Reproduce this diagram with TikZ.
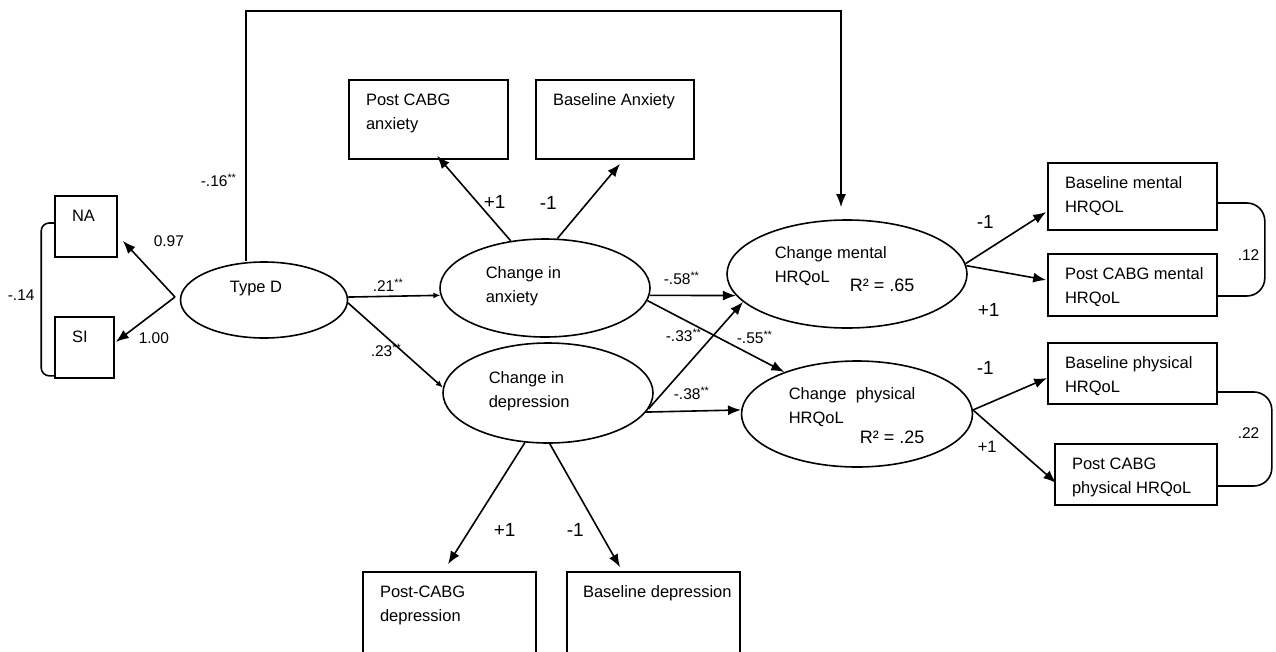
\documentclass[tikz,border=0pt]{standalone}
\usepackage{fontspec}
\setmainfont{Liberation Sans}
\usetikzlibrary{arrows.meta,shapes.geometric}

\begin{document}
\begin{tikzpicture}[x=1pt,y=-1pt,>={Latex[length=13pt,width=10pt]},line width=1.6pt,
  font=\fontsize{16.5}{24}\selectfont,
  box/.style={draw,rectangle,inner sep=0pt},
  latent/.style={draw,ellipse,inner sep=0pt},
  txt/.style={anchor=north west,inner sep=0pt,align=left},
  intxt/.style={txt,shift={(17,14)}},
  coef/.style={anchor=west,inner sep=0pt,font=\fontsize{15.5}{18}\selectfont},
  unit/.style={anchor=west,inner sep=0pt,font=\fontsize{19}{22}\selectfont},
  rsq/.style={anchor=west,inner sep=0pt,font=\fontsize{18}{20}\selectfont},
  small tip/.style={-{Latex[length=7pt,width=6pt]}}]
  \useasboundingbox (0,0) rectangle (1276,651);
  \clip (0,0) rectangle (1276,651);

  % indicators
  \node[box,minimum width=62pt,minimum height=61pt,label={[intxt]north west:NA}] (na) at (86,226.5) {};
  \node[box,minimum width=59pt,minimum height=61pt,label={[intxt]north west:SI}] (si) at (84.5,347.5) {};
  \node[box,minimum width=159pt,minimum height=79pt,label={[intxt]north west:{Post CABG\\anxiety}}] (pcanx) at (428.5,119.5) {};
  \node[box,minimum width=158pt,minimum height=79pt,label={[intxt]north west:Baseline Anxiety}] (banx) at (615,119.5) {};
  \node[box,minimum width=173pt,minimum height=93pt,label={[intxt]north west:{Post-CABG\\depression}}] (pdep) at (449.5,618.5) {};
  \node[box,minimum width=173pt,minimum height=93pt,label={[txt,shift={(16,14)}]north west:Baseline depression}] (bdep) at (653.5,618.5) {};
  \node[box,minimum width=169pt,minimum height=67pt,label={[intxt]north west:{Baseline mental\\HRQOL}}] (bment) at (1132.5,196.5) {};
  \node[box,minimum width=169pt,minimum height=62pt,label={[intxt]north west:{Post CABG mental\\HRQoL}}] (pment) at (1132.5,285) {};
  \node[box,minimum width=169pt,minimum height=61pt,label={[intxt]north west:{Baseline physical\\HRQoL}}] (bphys) at (1132.5,373.5) {};
  \node[box,minimum width=162pt,minimum height=61pt,label={[intxt]north west:{Post CABG\\physical HRQoL}}] (pphys) at (1136,474.5) {};

  % latent variables
  \node[latent,minimum width=167pt,minimum height=76pt] (typed) at (264,300) {};
  \node[latent,minimum width=210pt,minimum height=98pt] (anx) at (545,288) {};
  \node[latent,minimum width=210pt,minimum height=100pt] (dep) at (548,393) {};
  \node[latent,minimum width=240pt,minimum height=108pt] (ment) at (847,274) {};
  \node[latent,minimum width=231pt,minimum height=106pt] (phys) at (857,414) {};
  \node[inner sep=0pt] (typedtxt) at (256,289) {Type D};
  \node[txt] (anxtxt) at (485,266) {Change in\\anxiety};
  \node[txt] (deptxt) at (488,371) {Change in\\depression};
  \node[txt] (menttxt) at (774,246) {Change mental\\HRQoL};
  \node[txt] (physstxt) at (788,387) {Change\ \ physical\\HRQoL};
  \node[rsq] (mentr) at (849,285) {R² = .65};
  \node[rsq] (physr) at (859,437) {R² = .25};

  % loadings and paths
  \coordinate (fork) at (175,297);
  \draw[->] (fork) -- ([shift={(5,-17)}]na.south east);
  \draw[->] (fork) -- ([shift={(1,-5.5)}]si.east);
  \draw[rounded corners=8pt] ([shift={(0,-3.5)}]na.west) -- ++(-13,0) |- ([shift={(0,-3)}]si.south west);
  \coordinate (looptop) at (841,11);
  \draw[->] ([shift={(-18,0)}]typed.north) |- (looptop) -- ([shift={(-6,-12)}]ment.north);
  \draw[small tip] (typed.2) -- (anx.184);
  \draw[small tip] (typed.358) -- (dep.177);
  \draw[->] (anx.126) -- ([shift={(8.5,-4)}]pcanx.south);
  \draw[->] (anx.76) -- ([shift={(5,4)}]banx.south);
  \draw[->] (dep.245) -- ([shift={(-1.5,-7)}]pdep.north);
  \draw[->] (dep.272) -- ([shift={(-33.5,-4)}]bdep.north);
  \draw[->] (anx.356) -- (ment.191);
  \draw[->] (anx.353) -- (phys.150);
  \draw[->] (dep.351) -- (ment.195);
  \draw[->] (dep.349) -- (phys.178);
  \draw[->] (ment.5) -- ([shift={(-1,15.5)}]bment.west);
  \draw[->] (ment.4) -- ([shift={(-1,-5)}]pment.west);
  \draw[->] (phys.2) -- ([shift={(0,4.5)}]bphys.west);
  \draw[->] (phys.2) -- ([shift={(2,8.5)}]pphys.west);
  \draw[rounded corners=18pt] ([shift={(0,6.5)}]bment.east) -- ++(47,0) |- ([shift={(0,11)}]pment.east);
  \draw[rounded corners=18pt] ([shift={(0,18.5)}]bphys.east) -- ++(54,0) |- ([shift={(0,11.5)}]pphys.east);

  % coefficients
  \node[coef] (cna) at (153,241) {0.97};
  \node[coef] (csi) at (138,338) {1.00};
  \node[coef] (cnasi) at (7,295) {-.14};
  \node[coef] (cloop) at (200,180) {-.16\textsuperscript{**}};
  \node[coef] (canx) at (372,285) {.21\textsuperscript{**}};
  \node[coef] (cdep) at (370,350) {.23\textsuperscript{**}};
  \node[coef] (canxm) at (663,278) {-.58\textsuperscript{**}};
  \node[coef] (cdepm) at (665,335) {-.33\textsuperscript{**}};
  \node[coef] (canxp) at (736,337) {-.55\textsuperscript{**}};
  \node[coef] (cdepp) at (673,393) {-.38\textsuperscript{**}};
  \node[coef] (cment) at (1237,255) {.12};
  \node[coef] (cphys) at (1237,433) {.22};
  \node[unit] (uanxp) at (483,202) {+1};
  \node[unit] (uanxb) at (539,203) {-1};
  \node[unit] (udepp) at (493,530) {+1};
  \node[unit] (udepb) at (566,530) {-1};
  \node[unit] (umentb) at (976,222) {-1};
  \node[unit] (umentp) at (977,310) {+1};
  \node[unit] (uphysb) at (976,368) {-1};
  \node[unit,font=\fontsize{16.5}{20}\selectfont] (uphysp) at (977,447) {+1};
\end{tikzpicture}
\end{document}
